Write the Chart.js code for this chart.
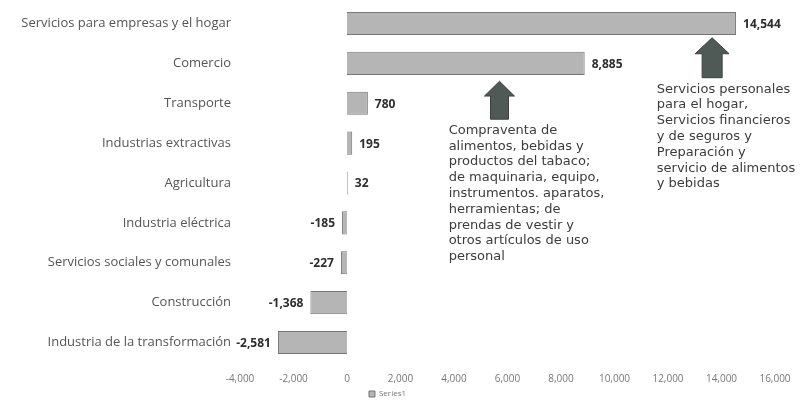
<!DOCTYPE html>
<html>
<head>
<meta charset="utf-8">
<script src="https://cdn.jsdelivr.net/npm/chart.js@4"></script>
<style>
html,body{margin:0;padding:0;background:#fff;}
#wrap{width:805px;height:408px;}
</style>
</head>
<body>
<div id="wrap"><canvas id="c" width="805" height="408"></canvas></div>
<script>
const categories = [
  "Servicios para empresas y el hogar",
  "Comercio",
  "Transporte",
  "Industrias extractivas",
  "Agricultura",
  "Industria eléctrica",
  "Servicios sociales y comunales",
  "Construcción",
  "Industria de la transformación"
];
const series1 = [14544, 8885, 780, 195, 32, -185, -227, -1368, -2581];
const xTicks = [-4000, -2000, 0, 2000, 4000, 6000, 8000, 10000, 12000, 14000, 16000];
const seriesName = "Series1";

const note1Lines = [
  "Compraventa de",
  "alimentos, bebidas y",
  "productos del tabaco;",
  "de maquinaria, equipo,",
  "instrumentos. aparatos,",
  "herramientas; de",
  "prendas de vestir y",
  "otros artículos de uso",
  "personal"
];
const note2Lines = [
  "Servicios personales",
  "para el hogar,",
  "Servicios financieros",
  "y de seguros y",
  "Preparación y",
  "servicio de alimentos",
  "y bebidas"
];
// annotation anchors in data units (x value, y category index)
const arrows = [
  {x: 5700, tip: 1.45, headBase: 1.82, bottom: 2.4, headW: 30, shaftW: 18},
  {x: 13650, tip: 0.36, headBase: 0.76, bottom: 1.36, headW: 34, shaftW: 20}
];
const notes = [
  {x: 3800, y: 2.68, lines: note1Lines},
  {x: 11580, y: 1.65, lines: note2Lines}
];

const fmt = v => v.toLocaleString('en-US');

const labelPlugin = {
  id: 'vals',
  afterDatasetsDraw(chart) {
    const ctx = chart.ctx;
    const meta = chart.getDatasetMeta(0);
    ctx.save();
    ctx.font = 'bold 12px "Open Sans"';
    ctx.fillStyle = '#2e2e2e';
    ctx.textBaseline = 'middle';
    meta.data.forEach((bar, i) => {
      const v = series1[i];
      if (v >= 0) { ctx.textAlign = 'left'; ctx.fillText(fmt(v), bar.x + 7, bar.y + 1); }
      else { ctx.textAlign = 'right'; ctx.fillText(fmt(v), bar.x - 7, bar.y + 1); }
    });
    ctx.restore();
  }
};

const notePlugin = {
  id: 'notes',
  afterDraw(chart) {
    const ctx = chart.ctx;
    const xs = chart.scales.x, ys = chart.scales.y;
    ctx.save();
    arrows.forEach(a => {
      const cx = xs.getPixelForValue(a.x);
      const t = ys.getPixelForValue(a.tip);
      const hb = ys.getPixelForValue(a.headBase);
      const b = ys.getPixelForValue(a.bottom);
      ctx.beginPath();
      ctx.moveTo(cx, t);
      ctx.lineTo(cx + a.headW / 2, hb);
      ctx.lineTo(cx + a.shaftW / 2, hb);
      ctx.lineTo(cx + a.shaftW / 2, b);
      ctx.lineTo(cx - a.shaftW / 2, b);
      ctx.lineTo(cx - a.shaftW / 2, hb);
      ctx.lineTo(cx - a.headW / 2, hb);
      ctx.closePath();
      ctx.fillStyle = '#4f5955';
      ctx.fill();
      ctx.strokeStyle = '#3a403d';
      ctx.lineWidth = 1;
      ctx.stroke();
    });
    ctx.font = '13px "DejaVu Sans"';
    ctx.fillStyle = '#3c3c3c';
    ctx.textAlign = 'left';
    ctx.textBaseline = 'middle';
    notes.forEach(n => {
      const x = xs.getPixelForValue(n.x);
      const y0 = ys.getPixelForValue(n.y);
      n.lines.forEach((l, i) => ctx.fillText(l, x, y0 + i * 15.8));
    });
    ctx.restore();
  }
};

new Chart(document.getElementById('c'), {
  type: 'bar',
  data: {
    labels: categories,
    datasets: [{
      label: seriesName,
      data: series1,
      backgroundColor: '#b5b5b5',
      borderColor: '#767676',
      borderWidth: 1,
      barPercentage: 0.58,
      categoryPercentage: 1.0
    }]
  },
  options: {
    indexAxis: 'y',
    responsive: false,
    animation: false,
    layout: { padding: { top: 3.5, right: 30, left: 0, bottom: 0 } },
    scales: {
      x: {
        min: -4000, max: 16000,
        afterBuildTicks(s) { s.ticks = xTicks.map(v => ({value: v})); },
        grid: { display: false, drawTicks: false },
        border: { display: false },
        ticks: {
          font: { family: 'Open Sans', size: 10 },
          color: '#777',
          padding: 11,
          callback: v => fmt(v)
        },
        afterFit(s) { s.height = 25.5; s.paddingLeft = 0; s.paddingRight = 0; s.paddingTop = 0; s.paddingBottom = 0; }
      },
      y: {
        grid: { display: false, drawTicks: false },
        border: { display: false },
        ticks: {
          font: { family: 'Open Sans', size: 13 },
          color: '#555',
          padding: 9
        },
        afterFit(s) { s.width = 240; s.paddingTop = 0; s.paddingBottom = 0; s.paddingLeft = 0; s.paddingRight = 0; }
      }
    },
    plugins: {
      legend: {
        position: 'bottom',
        labels: {
          boxWidth: 6, boxHeight: 6,
          font: { family: 'Open Sans', size: 8 },
          color: '#777',
          padding: 2
        }
      },
      tooltip: { enabled: false }
    }
  },
  plugins: [labelPlugin, notePlugin]
});
</script>
</body>
</html>
